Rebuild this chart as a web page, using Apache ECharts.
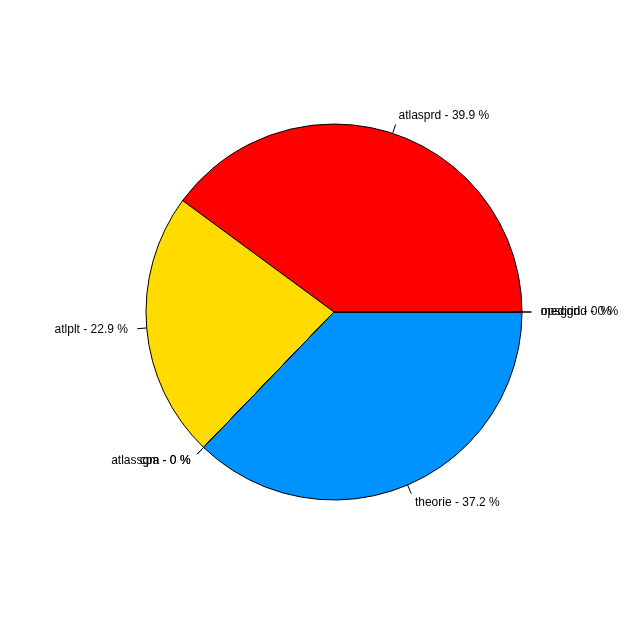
<!DOCTYPE html>
<html>
<head>
    <meta charset="utf-8">
    <title>index</title>
    <style>
        html, body { margin: 0; padding: 0; background: #fff; }
        #container { width: 640px; height: 640px; }
    </style>
</head>
<body>
    <div id="container"></div>
    <script src="https://cdn.jsdelivr.net/npm/echarts@6/dist/echarts.min.js"></script>
    <script type="text/javascript">
        // pie order as drawn (counter-clockwise from 3 o'clock)
        var names = ['atlasprd', 'atlplt', 'atlassgm', 'cpa', 'theorie', 'medigrid', 'opsgrid'];
        var percents = [39.9, 22.9, 0, 0, 37.2, 0, 0];
        var colors = ['#FF0000', '#FFDB00', '#49FF00', '#00FF92', '#0092FF', '#4900FF', '#FF00DB'];

        var dom = document.getElementById('container');
        var myChart = echarts.init(dom);

        var data = names.map(function (n, i) {
            return { name: n, value: percents[i], itemStyle: { color: colors[i] } };
        });

        var R = 188;

        var option = {
            animation: false,
            series: [{
                type: 'pie',
                center: [334, 312],
                radius: [0, R],
                startAngle: 0,
                clockwise: false,
                minAngle: 0,
                avoidLabelOverlap: false,
                stillShowZeroSum: true,
                data: data,
                itemStyle: { borderColor: '#000', borderWidth: 1 },
                label: {
                    show: true,
                    position: 'outside',
                    formatter: function (p) { return p.name + ' - ' + p.value + ' %'; },
                    color: '#000',
                    fontFamily: 'Liberation Sans, Arial, sans-serif',
                    fontSize: 12,
                    distanceToLabelLine: 0
                },
                labelLine: {
                    show: true,
                    length: 0.05 * R,
                    length2: 0,
                    smooth: false,
                    lineStyle: { color: '#000', width: 1 }
                },
                // R style: text sits radially at 1.1r, tick runs r -> 1.05r
                labelLayout: function (p) {
                    var pts = p.labelLinePoints;
                    if (!pts) return { hideOverlap: false };
                    var dx = pts[1][0] - pts[0][0], dy = pts[1][1] - pts[0][1];
                    var len = Math.sqrt(dx * dx + dy * dy) || 1;
                    var k = 0.05 * R / len;
                    return {
                        x: pts[1][0] + dx * k,
                        y: pts[1][1] + dy * k,
                        align: dx >= 0 ? 'left' : 'right',
                        verticalAlign: 'middle',
                        hideOverlap: false,
                        labelLinePoints: [
                            [pts[0][0], pts[0][1]],
                            [pts[1][0], pts[1][1]],
                            [pts[1][0], pts[1][1]]
                        ]
                    };
                },
                emphasis: { disabled: true }
            }]
        };

        if (option && typeof option === 'object') {
            myChart.setOption(option, true);
        }
    </script>
</body>
</html>
